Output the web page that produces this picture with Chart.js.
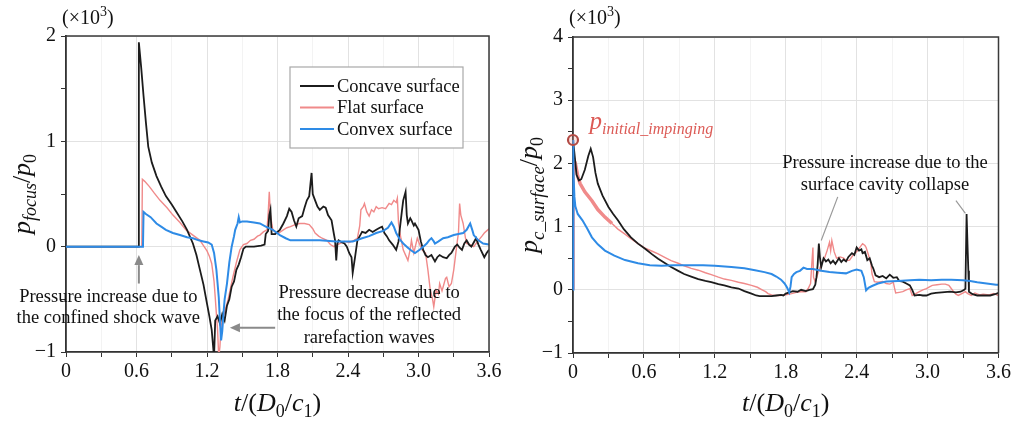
<!DOCTYPE html>
<html>
<head>
<meta charset="utf-8">
<script src="https://cdn.jsdelivr.net/npm/chart.js@4.4.1/dist/chart.umd.min.js"></script>
<style>
  html, body { margin: 0; padding: 0; background: #fff; }
  #wrap { position: relative; width: 1014px; height: 423px; }
  canvas { position: absolute; top: 0; }
  #focusChart { left: 0; }
  #surfaceChart { left: 507px; }
</style>
</head>
<body>
<div id="wrap">
  <canvas id="focusChart" width="507" height="423"></canvas>
  <canvas id="surfaceChart" width="507" height="423"></canvas>
</div>
<script>
// time axis t/(D0/c1), pressure in units of 10^3 p0
const xMajor = [0, 0.6, 1.2, 1.8, 2.4, 3.0, 3.6];
const seriesNames = ["Concave surface", "Flat surface", "Convex surface"];
const seriesColors = ["#1c1c1c", "#f08a8a", "#2e8be6"];

// pressure at the focus
const focusConcave = [[0,0],[0.615,0],[0.62,1.94],[0.64,1.70],[0.66,1.43],[0.68,1.18],[0.70,0.95],[0.73,0.80],[0.77,0.67],[0.81,0.57],[0.85,0.48],[0.90,0.40],[0.94,0.33],[0.99,0.24],[1.03,0.16],[1.08,0.03],[1.11,-0.08],[1.14,-0.22],[1.17,-0.36],[1.20,-0.54],[1.22,-0.66],[1.24,-0.79],[1.25,-0.92],[1.26,-1.05],[1.265,-1.05],[1.27,-0.70],[1.29,-0.66],[1.31,-0.73],[1.33,-0.64],[1.35,-0.70],[1.37,-0.56],[1.39,-0.50],[1.41,-0.38],[1.43,-0.33],[1.45,-0.22],[1.47,-0.17],[1.49,-0.10],[1.51,-0.02],[1.53,0.0],[1.60,0.0],[1.66,0.01],[1.69,0.02],[1.70,0.12],[1.72,0.15],[1.73,0.30],[1.74,0.35],[1.75,0.12],[1.78,0.12],[1.82,0.16],[1.85,0.22],[1.88,0.29],[1.90,0.36],[1.92,0.33],[1.94,0.25],[1.96,0.19],[1.98,0.27],[2.01,0.29],[2.03,0.37],[2.05,0.44],[2.07,0.48],[2.09,0.70],[2.10,0.50],[2.12,0.44],[2.14,0.38],[2.16,0.35],[2.19,0.38],[2.21,0.37],[2.23,0.30],[2.26,0.25],[2.28,0.12],[2.29,0.06],[2.30,-0.13],[2.31,0.03],[2.32,0.06],[2.35,0.04],[2.37,0.03],[2.39,0.0],[2.41,-0.06],[2.43,-0.10],[2.44,-0.25],[2.46,-0.10],[2.48,0.06],[2.50,0.10],[2.52,0.14],[2.55,0.13],[2.58,0.16],[2.61,0.14],[2.64,0.16],[2.67,0.18],[2.69,0.19],[2.71,0.13],[2.73,0.10],[2.75,0.06],[2.78,0.02],[2.81,-0.03],[2.83,0.05],[2.84,0.16],[2.86,0.35],[2.87,0.44],[2.89,0.52],[2.90,0.30],[2.91,0.22],[2.93,0.27],[2.94,0.25],[2.96,0.20],[2.97,0.22],[3.00,0.16],[3.02,0.05],[3.04,-0.03],[3.06,-0.08],[3.08,-0.10],[3.11,-0.08],[3.14,-0.14],[3.16,-0.10],[3.18,-0.08],[3.21,-0.10],[3.24,-0.11],[3.26,-0.08],[3.28,-0.06],[3.31,0.0],[3.33,0.02],[3.35,-0.01],[3.37,-0.03],[3.39,0.03],[3.41,0.06],[3.43,0.02],[3.45,0.0],[3.47,0.04],[3.49,0.08],[3.51,0.02],[3.53,-0.03],[3.56,-0.10],[3.58,-0.06],[3.60,-0.03]];
const focusFlat = [[0,0],[0.645,0],[0.65,0.64],[0.67,0.62],[0.71,0.57],[0.75,0.51],[0.80,0.44],[0.86,0.37],[0.91,0.30],[0.97,0.23],[1.02,0.16],[1.08,0.11],[1.14,0.06],[1.17,0.01],[1.20,-0.04],[1.22,-0.09],[1.24,-0.16],[1.26,-0.33],[1.27,-0.48],[1.28,-0.64],[1.29,-0.79],[1.30,-1.05],[1.31,-0.95],[1.32,-0.75],[1.35,-0.62],[1.38,-0.50],[1.42,-0.29],[1.45,-0.15],[1.48,-0.03],[1.51,0.02],[1.54,0.03],[1.57,0.06],[1.60,0.07],[1.63,0.10],[1.65,0.11],[1.68,0.14],[1.71,0.16],[1.72,0.30],[1.73,0.52],[1.74,0.30],[1.76,0.16],[1.79,0.13],[1.81,0.13],[1.85,0.16],[1.88,0.18],[1.91,0.19],[1.95,0.21],[1.99,0.22],[2.03,0.22],[2.07,0.21],[2.10,0.17],[2.12,0.13],[2.15,0.10],[2.18,0.08],[2.22,0.06],[2.25,0.02],[2.28,0.0],[2.31,0.02],[2.33,0.03],[2.37,0.05],[2.41,0.04],[2.45,0.06],[2.48,0.08],[2.50,0.20],[2.51,0.35],[2.53,0.38],[2.54,0.41],[2.56,0.33],[2.58,0.29],[2.60,0.35],[2.62,0.33],[2.64,0.38],[2.66,0.36],[2.69,0.37],[2.72,0.36],[2.75,0.41],[2.77,0.40],[2.79,0.44],[2.81,0.42],[2.82,0.46],[2.83,0.22],[2.85,0.08],[2.87,-0.03],[2.89,-0.08],[2.91,-0.13],[2.93,-0.02],[2.94,0.06],[2.96,-0.06],[2.99,0.08],[3.01,0.02],[3.03,-0.03],[3.06,-0.06],[3.08,-0.22],[3.10,-0.41],[3.12,-0.50],[3.13,-0.57],[3.15,-0.41],[3.17,-0.45],[3.18,-0.35],[3.20,-0.42],[3.21,-0.38],[3.23,-0.30],[3.24,-0.29],[3.26,-0.38],[3.28,-0.35],[3.30,-0.22],[3.31,-0.13],[3.33,0.05],[3.34,0.13],[3.35,0.41],[3.36,0.30],[3.38,0.22],[3.40,0.08],[3.41,0.03],[3.44,0.02],[3.47,0.0],[3.49,0.03],[3.51,0.06],[3.54,0.10],[3.56,0.13],[3.58,0.15],[3.60,0.17]];
const focusConvex = [[0,0],[0.655,0],[0.66,0.33],[0.68,0.31],[0.72,0.28],[0.77,0.22],[0.81,0.19],[0.85,0.16],[0.91,0.13],[0.97,0.11],[1.03,0.09],[1.08,0.08],[1.13,0.06],[1.17,0.05],[1.21,0.04],[1.24,0.02],[1.26,-0.06],[1.28,-0.22],[1.29,-0.35],[1.30,-0.48],[1.31,-0.70],[1.32,-0.89],[1.33,-0.80],[1.34,-0.64],[1.35,-0.50],[1.37,-0.35],[1.39,-0.15],[1.41,0.0],[1.43,0.10],[1.44,0.16],[1.46,0.22],[1.47,0.28],[1.48,0.23],[1.50,0.24],[1.54,0.24],[1.60,0.23],[1.65,0.22],[1.70,0.19],[1.76,0.16],[1.82,0.11],[1.87,0.08],[1.91,0.06],[2.02,0.06],[2.16,0.06],[2.30,0.05],[2.44,0.05],[2.52,0.08],[2.58,0.10],[2.64,0.13],[2.70,0.15],[2.74,0.18],[2.77,0.23],[2.79,0.19],[2.81,0.13],[2.84,0.07],[2.87,0.03],[2.90,0.0],[2.93,-0.03],[2.97,-0.06],[3.01,-0.03],[3.04,0.0],[3.07,0.03],[3.09,0.06],[3.11,0.08],[3.13,0.05],[3.14,0.03],[3.17,0.05],[3.21,0.08],[3.25,0.09],[3.30,0.11],[3.34,0.12],[3.38,0.13],[3.41,0.16],[3.43,0.20],[3.44,0.22],[3.46,0.15],[3.47,0.11],[3.51,0.06],[3.55,0.03],[3.60,0.02]];

// pressure at the centre of the surface
const surfaceConcave = [[0,0],[0,2.37],[0.01,2.2],[0.03,1.82],[0.05,1.73],[0.07,1.75],[0.10,1.90],[0.13,2.12],[0.15,2.23],[0.17,2.10],[0.19,1.85],[0.21,1.68],[0.25,1.49],[0.30,1.31],[0.34,1.20],[0.38,1.10],[0.43,0.96],[0.49,0.83],[0.55,0.73],[0.61,0.65],[0.67,0.56],[0.72,0.49],[0.78,0.42],[0.83,0.36],[0.89,0.30],[0.94,0.25],[1.00,0.21],[1.06,0.17],[1.12,0.14],[1.17,0.12],[1.23,0.09],[1.28,0.07],[1.34,0.04],[1.40,0.02],[1.45,-0.02],[1.51,-0.06],[1.55,-0.09],[1.58,-0.10],[1.64,-0.10],[1.68,-0.10],[1.72,-0.09],[1.76,-0.08],[1.78,-0.09],[1.80,-0.06],[1.83,-0.04],[1.86,-0.02],[1.90,-0.03],[1.93,0.0],[1.97,-0.02],[2.00,0.0],[2.03,0.01],[2.05,0.08],[2.06,0.20],[2.07,0.40],[2.08,0.73],[2.09,0.50],[2.10,0.36],[2.12,0.50],[2.14,0.45],[2.16,0.48],[2.18,0.42],[2.20,0.46],[2.22,0.41],[2.25,0.50],[2.27,0.44],[2.29,0.48],[2.31,0.45],[2.33,0.52],[2.36,0.58],[2.38,0.55],[2.40,0.67],[2.42,0.62],[2.44,0.64],[2.45,0.58],[2.47,0.60],[2.49,0.47],[2.51,0.50],[2.53,0.38],[2.54,0.34],[2.56,0.23],[2.59,0.20],[2.62,0.22],[2.65,0.18],[2.68,0.24],[2.71,0.19],[2.74,0.20],[2.76,0.14],[2.79,0.13],[2.82,0.10],[2.85,0.07],[2.87,0.0],[2.89,-0.09],[2.93,-0.08],[2.96,-0.09],[2.99,-0.09],[3.03,-0.06],[3.07,-0.05],[3.12,-0.04],[3.19,-0.03],[3.24,-0.04],[3.28,-0.03],[3.31,0.0],[3.32,0.02],[3.33,1.20],[3.34,0.58],[3.345,0.30],[3.35,-0.03],[3.38,-0.07],[3.42,-0.09],[3.47,-0.09],[3.53,-0.09],[3.57,-0.07],[3.60,-0.05]];
const surfaceFlat = [[0,0],[0,2.10],[0.02,2.0],[0.04,1.80],[0.06,1.68],[0.10,1.55],[0.16,1.41],[0.21,1.27],[0.27,1.15],[0.33,1.05],[0.38,0.96],[0.44,0.88],[0.49,0.81],[0.55,0.73],[0.61,0.66],[0.67,0.61],[0.72,0.57],[0.78,0.51],[0.83,0.46],[0.89,0.42],[0.94,0.38],[1.00,0.34],[1.06,0.31],[1.12,0.27],[1.17,0.24],[1.23,0.20],[1.28,0.17],[1.34,0.15],[1.40,0.12],[1.45,0.10],[1.51,0.07],[1.56,0.04],[1.60,0.0],[1.63,-0.03],[1.65,-0.06],[1.68,-0.08],[1.71,-0.09],[1.75,-0.09],[1.80,-0.08],[1.85,-0.06],[1.89,-0.04],[1.93,-0.03],[1.97,-0.03],[1.99,0.02],[2.01,0.10],[2.02,0.40],[2.03,0.67],[2.035,0.20],[2.05,0.12],[2.07,0.25],[2.08,0.30],[2.10,0.40],[2.12,0.48],[2.13,0.51],[2.15,0.62],[2.17,0.75],[2.18,0.62],[2.19,0.78],[2.21,0.60],[2.23,0.50],[2.26,0.52],[2.29,0.50],[2.31,0.46],[2.34,0.47],[2.37,0.55],[2.40,0.60],[2.43,0.68],[2.45,0.73],[2.47,0.70],[2.48,0.67],[2.50,0.55],[2.52,0.42],[2.53,0.25],[2.55,0.13],[2.58,0.12],[2.62,0.13],[2.65,0.10],[2.68,0.09],[2.71,0.12],[2.72,0.03],[2.73,-0.05],[2.76,-0.04],[2.79,-0.03],[2.82,0.0],[2.85,0.02],[2.87,-0.09],[2.90,-0.06],[2.93,-0.03],[2.96,0.0],[2.99,0.02],[3.02,0.05],[3.04,0.07],[3.08,0.08],[3.12,0.09],[3.15,0.09],[3.18,0.07],[3.20,0.02],[3.22,-0.03],[3.24,-0.07],[3.26,-0.09],[3.29,-0.06],[3.32,-0.03],[3.34,-0.06],[3.37,-0.09],[3.40,-0.05],[3.44,-0.08],[3.47,-0.07],[3.52,-0.08],[3.56,-0.06],[3.60,-0.09]];
const surfaceConvex = [[0,0],[0,2.37],[0.003,2.3],[0.006,1.9],[0.012,1.47],[0.02,1.32],[0.04,1.20],[0.08,1.10],[0.12,0.97],[0.16,0.83],[0.21,0.72],[0.27,0.62],[0.35,0.54],[0.44,0.47],[0.55,0.42],[0.65,0.39],[0.75,0.38],[0.85,0.39],[1.00,0.39],[1.10,0.39],[1.20,0.38],[1.34,0.36],[1.45,0.34],[1.54,0.31],[1.62,0.28],[1.68,0.25],[1.72,0.21],[1.76,0.16],[1.79,0.10],[1.81,0.04],[1.83,-0.04],[1.84,0.05],[1.85,0.20],[1.87,0.25],[1.89,0.28],[1.92,0.30],[1.95,0.35],[1.98,0.33],[2.03,0.33],[2.10,0.30],[2.17,0.28],[2.24,0.27],[2.31,0.26],[2.36,0.30],[2.40,0.32],[2.44,0.30],[2.46,0.20],[2.48,-0.01],[2.50,0.03],[2.53,0.06],[2.58,0.10],[2.65,0.13],[2.75,0.14],[2.85,0.15],[2.93,0.16],[3.03,0.15],[3.12,0.16],[3.20,0.16],[3.30,0.15],[3.36,0.14],[3.42,0.12],[3.50,0.10],[3.58,0.08],[3.60,0.08]];

// first impinging pressure on the surface
const impingePoint = [[0, 2.37]];

const SERIF = '"Liberation Serif", "Times New Roman", serif';
const toXY = pts => pts.map(([x, y]) => ({ x, y }));
const isMajorX = v => Math.abs(v / 0.6 - Math.round(v / 0.6)) < 1e-6;
const isMajorY = v => Math.abs(v - Math.round(v)) < 1e-6;

function lineSet(i, pts, width, order, extra) {
    return Object.assign({
        label: seriesNames[i],
        data: toXY(pts),
        borderColor: seriesColors[i],
        borderWidth: width,
        pointRadius: 0,
        tension: 0,
        fill: false,
        order: order,
    }, extra || {});
}

// text made of runs: { t, i: italic, s: 'sub' | 'sup', z: size }
function runFont(r) {
    return (r.i ? "italic " : "") + r.z + "px " + SERIF;
}
function drawRuns(ctx, runs, x, y, align) {
    let total = 0;
    runs.forEach(r => { ctx.font = runFont(r); r.w = ctx.measureText(r.t).width; total += r.w; });
    let cx = align === "center" ? x - total / 2 : x;
    ctx.textAlign = "left";
    ctx.textBaseline = "alphabetic";
    runs.forEach(r => {
        ctx.font = runFont(r);
        const dy = r.s === "sub" ? r.z * 0.35 : r.s === "sup" ? -r.z * 0.6 : 0;
        ctx.fillText(r.t, cx, y + dy);
        cx += r.w;
    });
}

const xTitle = [
    { t: "t", i: true, z: 26 }, { t: "/(", z: 26 }, { t: "D", i: true, z: 26 }, { t: "0", s: "sub", z: 18 },
    { t: "/", z: 26 }, { t: "c", i: true, z: 26 }, { t: "1", s: "sub", z: 18 }, { t: ")", z: 26 },
];
const scaleNote = [{ t: "(×10", z: 20 }, { t: "3", s: "sup", z: 14 }, { t: ")", z: 20 }];

function arrow(ctx, x1, y1, x2, y2) {
    const a = Math.atan2(y2 - y1, x2 - x1);
    const hl = 10, hw = 4.5;
    ctx.beginPath();
    ctx.moveTo(x1, y1);
    ctx.lineTo(x2 - hl * Math.cos(a), y2 - hl * Math.sin(a));
    ctx.stroke();
    ctx.beginPath();
    ctx.moveTo(x2, y2);
    ctx.lineTo(x2 - hl * Math.cos(a) + hw * Math.sin(a), y2 - hl * Math.sin(a) - hw * Math.cos(a));
    ctx.lineTo(x2 - hl * Math.cos(a) - hw * Math.sin(a), y2 - hl * Math.sin(a) + hw * Math.cos(a));
    ctx.closePath();
    ctx.fill();
}

// frame, axis titles and notes drawn on top of each panel
function decorations(yTitle, notes) {
    return {
        id: "decorations",
        afterDraw(chart) {
            const ctx = chart.ctx;
            const a = chart.chartArea;
            const xs = chart.scales.x, ys = chart.scales.y;
            ctx.save();
            // top and right edges of the box
            ctx.strokeStyle = "#3a3a3a";
            ctx.lineWidth = 1.5;
            ctx.beginPath();
            ctx.moveTo(a.left, a.top);
            ctx.lineTo(a.right, a.top);
            ctx.lineTo(a.right, a.bottom);
            ctx.stroke();

            ctx.fillStyle = "#111";
            drawRuns(ctx, scaleNote, a.left - 4, 24, "left");
            drawRuns(ctx, xTitle, (a.left + a.right) / 2, 411, "center");

            ctx.save();
            ctx.translate(a.left - 36, (a.top + a.bottom) / 2);
            ctx.rotate(-Math.PI / 2);
            drawRuns(ctx, yTitle, 0, 0, "center");
            ctx.restore();

            notes(ctx, xs, ys, a);
            ctx.restore();
        }
    };
}

function baseOptions(yMin, yMax, xScaleHeight, rightPad, topPad) {
    return {
        responsive: false,
        animation: false,
        layout: { padding: { top: topPad, right: rightPad, left: 0, bottom: 0 } },
        plugins: { legend: { display: false }, tooltip: { enabled: false } },
        scales: {
            x: {
                type: "linear", min: 0, max: 3.6,
                afterFit: s => { s.height = xScaleHeight; },
                ticks: {
                    stepSize: 0.3, autoSkip: false, maxRotation: 0, padding: 3,
                    color: "#111", font: { family: SERIF, size: 20 },
                    callback: v => isMajorX(v) ? (Math.abs(v) < 1e-9 ? "0" : v.toFixed(1)) : "",
                },
                grid: {
                    color: c => isMajorX(c.tick.value) ? "#e2e2e2" : "#f3f3f3",
                    tickColor: "#333", tickLength: 5, lineWidth: 1,
                },
                border: { color: "#333", width: 1.8 },
            },
            y: {
                type: "linear", min: yMin, max: yMax,
                afterFit: s => { s.width = 66; },
                ticks: {
                    stepSize: 0.5, padding: 5, color: "#111", font: { family: SERIF, size: 20 },
                    callback: v => isMajorY(v) ? (v < 0 ? "\u2212" + Math.abs(v) : String(v)) : "",
                },
                grid: {
                    color: c => isMajorY(c.tick.value) ? "#e2e2e2" : "rgba(0,0,0,0)",
                    tickColor: "#333", tickLength: 5, lineWidth: 1,
                },
                border: { color: "#333", width: 1.8 },
            },
        },
    };
}

const noteFont = "18.5px " + SERIF;

new Chart(document.getElementById("focusChart"), {
    type: "line",
    data: {
        datasets: [
            lineSet(0, focusConcave, 1.8, 2),
            lineSet(1, focusFlat, 1.4, 3),
            lineSet(2, focusConvex, 2, 1),
        ],
    },
    options: baseOptions(-1, 2, 71, 18, 36),
    plugins: [decorations(
        [{ t: "p", i: true, z: 26 }, { t: "focus", i: true, s: "sub", z: 18 }, { t: "/", z: 26 },
         { t: "p", i: true, z: 26 }, { t: "0", s: "sub", z: 18 }],
        (ctx, xs, ys, a) => {
            ctx.strokeStyle = "#8a8a8a";
            ctx.fillStyle = "#8a8a8a";
            ctx.lineWidth = 2;
            arrow(ctx, xs.getPixelForValue(0.62), ys.getPixelForValue(-0.35),
                       xs.getPixelForValue(0.62), ys.getPixelForValue(-0.08));
            arrow(ctx, xs.getPixelForValue(1.78), ys.getPixelForValue(-0.77),
                       xs.getPixelForValue(1.395), ys.getPixelForValue(-0.77));

            ctx.fillStyle = "#111";
            ctx.font = noteFont;
            ctx.textAlign = "center";
            ctx.textBaseline = "middle";
            ctx.fillText("Pressure increase due to", xs.getPixelForValue(0.36), ys.getPixelForValue(-0.48));
            ctx.fillText("the confined shock wave", xs.getPixelForValue(0.36), ys.getPixelForValue(-0.68));
            ctx.fillText("Pressure decrease due to", xs.getPixelForValue(2.58), ys.getPixelForValue(-0.44));
            ctx.fillText("the focus of the reflected", xs.getPixelForValue(2.58), ys.getPixelForValue(-0.65));
            ctx.fillText("rarefaction waves", xs.getPixelForValue(2.58), ys.getPixelForValue(-0.87));

            // legend box
            const bx = a.right - 199, by = a.top + 31, bw = 173, bh = 81;
            ctx.fillStyle = "#fff";
            ctx.fillRect(bx, by, bw, bh);
            ctx.strokeStyle = "#a8a8a8";
            ctx.lineWidth = 1.2;
            ctx.strokeRect(bx, by, bw, bh);
            seriesNames.forEach((name, i) => {
                const ry = by + 19 + i * 21.5;
                ctx.strokeStyle = seriesColors[i];
                ctx.lineWidth = 1.8;
                ctx.beginPath();
                ctx.moveTo(bx + 10, ry);
                ctx.lineTo(bx + 44, ry);
                ctx.stroke();
                ctx.fillStyle = "#111";
                ctx.font = noteFont;
                ctx.textAlign = "left";
                ctx.textBaseline = "middle";
                ctx.fillText(name, bx + 47, ry + 1);
            });
        })],
});

new Chart(document.getElementById("surfaceChart"), {
    type: "line",
    data: {
        datasets: [
            lineSet(0, surfaceConcave, 1.8, 2),
            lineSet(1, surfaceFlat, 1.4, 3, {
                segment: { borderWidth: c => c.p0.parsed.x < 0.3 ? 3.5 : 1.4 },
            }),
            lineSet(2, surfaceConvex, 2, 1, { clip: { left: 2, top: 0, right: 0, bottom: 0 } }),
            {
                label: "initial impinging",
                data: toXY(impingePoint),
                showLine: false,
                pointRadius: 5,
                pointBorderWidth: 2.2,
                pointBorderColor: "#b24a44",
                pointBackgroundColor: "rgba(240,150,140,0.25)",
                clip: false,
                order: 0,
            },
        ],
    },
    options: baseOptions(-1, 4, 70, 15, 37),
    plugins: [decorations(
        [{ t: "p", i: true, z: 26 }, { t: "c_surface", i: true, s: "sub", z: 19 }, { t: "/", z: 26 },
         { t: "p", i: true, z: 26 }, { t: "0", s: "sub", z: 18 }],
        (ctx, xs, ys) => {
            ctx.fillStyle = "#dc5a55";
            drawRuns(ctx, [{ t: "p", i: true, z: 25 }, { t: "initial_impinging", i: true, s: "sub", z: 16 }],
                     xs.getPixelForValue(0.14), ys.getPixelForValue(2.55), "left");

            ctx.fillStyle = "#111";
            ctx.font = noteFont;
            ctx.textAlign = "center";
            ctx.textBaseline = "middle";
            ctx.fillText("Pressure increase due to the", xs.getPixelForValue(2.64), ys.getPixelForValue(2.0));
            ctx.fillText("surface cavity collapse", xs.getPixelForValue(2.64), ys.getPixelForValue(1.65));

            ctx.strokeStyle = "#9a9a9a";
            ctx.lineWidth = 1.2;
            ctx.beginPath();
            ctx.moveTo(xs.getPixelForValue(2.24), ys.getPixelForValue(1.47));
            ctx.lineTo(xs.getPixelForValue(2.10), ys.getPixelForValue(0.78));
            ctx.moveTo(xs.getPixelForValue(3.24), ys.getPixelForValue(1.41));
            ctx.lineTo(xs.getPixelForValue(3.32), ys.getPixelForValue(1.21));
            ctx.stroke();
        })],
});
</script>
</body>
</html>
